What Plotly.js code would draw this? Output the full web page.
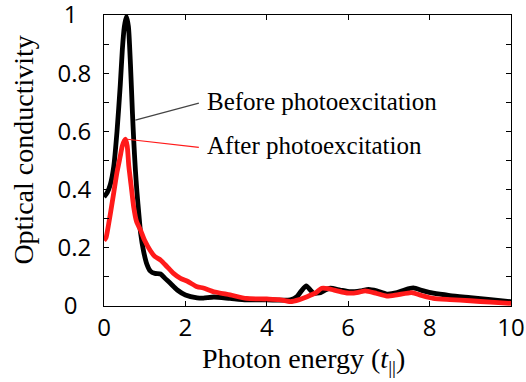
<!DOCTYPE html>
<html><head><meta charset="utf-8">
<script src="https://cdn.plot.ly/plotly-3.0.1.min.js"></script>
<style>html,body{margin:0;padding:0;background:#fff;}#wrap{position:relative;width:526px;height:382px;}#chart{width:526px;height:382px;}#frame{position:absolute;pointer-events:none;border-top:1px solid #000;border-right:1px solid #000;box-sizing:border-box;}</style>
</head><body><div id="wrap"><div id="chart"></div><div id="frame"></div></div>
<script>
const beforeX = [0, 0.08, 0.16, 0.24, 0.32, 0.4, 0.45, 0.5, 0.55, 0.6, 0.65, 0.7, 0.73, 0.77, 0.81, 0.86, 0.9, 0.97, 1.05, 1.14, 1.25, 1.39, 1.5, 1.63, 1.8, 2.0, 2.29, 2.44, 2.7, 3.1, 3.5, 4.0, 4.58, 4.74, 4.85, 4.97, 5.07, 5.15, 5.32, 5.45, 5.56, 5.8, 6.05, 6.3, 6.5, 6.7, 6.95, 7.2, 7.4, 7.6, 7.85, 8.09, 8.5, 9.0, 9.5, 10];
const beforeY = [0.375, 0.39, 0.42, 0.48, 0.6, 0.76, 0.88, 0.96, 0.995, 0.96, 0.83, 0.66, 0.57, 0.47, 0.39, 0.31, 0.25, 0.19, 0.145, 0.12, 0.112, 0.11, 0.095, 0.078, 0.055, 0.038, 0.028, 0.027, 0.031, 0.026, 0.021, 0.021, 0.021, 0.032, 0.052, 0.069, 0.055, 0.044, 0.046, 0.056, 0.061, 0.055, 0.049, 0.052, 0.057, 0.052, 0.041, 0.046, 0.056, 0.062, 0.052, 0.044, 0.036, 0.029, 0.022, 0.015];
const afterX = [0, 0.05, 0.1, 0.16, 0.24, 0.32, 0.4, 0.45, 0.5, 0.53, 0.57, 0.61, 0.67, 0.73, 0.8, 0.9, 1.0, 1.14, 1.25, 1.39, 1.55, 1.7, 1.88, 2.05, 2.29, 2.44, 2.7, 3.1, 3.5, 4.0, 4.3, 4.58, 4.8, 4.99, 5.2, 5.35, 5.5, 5.64, 5.85, 6.05, 6.25, 6.42, 6.7, 6.95, 7.2, 7.56, 7.8, 8.09, 8.5, 9.0, 9.5, 10];
const afterY = [0.225, 0.235, 0.27, 0.32, 0.39, 0.46, 0.515, 0.55, 0.568, 0.573, 0.55, 0.48, 0.41, 0.34, 0.29, 0.26, 0.225, 0.19, 0.17, 0.158, 0.135, 0.113, 0.095, 0.085, 0.066, 0.062, 0.049, 0.038, 0.026, 0.024, 0.022, 0.015, 0.022, 0.032, 0.045, 0.061, 0.06, 0.055, 0.048, 0.044, 0.047, 0.052, 0.043, 0.034, 0.038, 0.046, 0.036, 0.026, 0.022, 0.018, 0.013, 0.009];
const xTickVals = [0, 2, 4, 6, 8, 10];
const xTickText = ["0", "2", "4", "6", "8", "10"];
const yTickVals = [0, 0.2, 0.4, 0.6, 0.8, 1];
const yTickText = ["0\u2007", "0.2", "0.4", "0.6", "0.8", "1\u2007"];
const xRange = [0, 10];
const yRange = [0, 1];
const labels = ["Before photoexcitation", "After photoexcitation"];
const xTitle = "Photon energy (<i>t</i><sub>||</sub>)";
const yTitle = "Optical conductivity";

const serif = "Liberation Serif, Times New Roman, serif";
const sans = "Open Sans, sans-serif";
const TL = 5;

const traces = [
  {x: beforeX, y: beforeY, type: "scatter", mode: "lines", line: {color: "#000000", width: 4.8, shape: "spline", smoothing: 0.6}, hoverinfo: "skip"},
  {x: afterX, y: afterY, type: "scatter", mode: "lines", line: {color: "#ff1a1a", width: 4.8, shape: "spline", smoothing: 0.6}, hoverinfo: "skip"}
];

const layout = {
  width: 526, height: 382,
  margin: {l: 104, r: 15, t: 15, b: 76, autoexpand: false},
  showlegend: false,
  xaxis: {
    range: xRange, tickvals: xTickVals, ticktext: xTickText,
    ticks: "inside", ticklen: TL, tickcolor: "#000", showline: true, linecolor: "#000", mirror: "allticks",
    showgrid: false, zeroline: false, ticklabeloverflow: "allow",
    tickfont: {family: sans, size: 24, color: "#000"}
  },
  yaxis: {
    range: yRange, tickvals: yTickVals, ticktext: yTickText,
    ticks: "inside", ticklen: TL, tickcolor: "#000", showline: true, linecolor: "#000", mirror: "allticks",
    minor: {dtick: 0.1, ticks: "inside", ticklen: TL, tickcolor: "#000"},
    showgrid: false, zeroline: false, ticklabeloverflow: "allow", ticklabelstandoff: 7,
    tickfont: {family: sans, size: 24, color: "#000"}
  },
  shapes: [
    {type: "line", xref: "x", yref: "y", x0: 0.77, y0: 0.639, x1: 2.33, y1: 0.697, line: {color: "#444", width: 1.2}},
    {type: "line", xref: "x", yref: "y", x0: 0.57, y0: 0.573, x1: 2.33, y1: 0.545, line: {color: "#ff1a1a", width: 1.2}}
  ],
  annotations: [
    {x: 2.48, y: 0.703, xref: "x", yref: "y", text: labels[0], showarrow: false, xanchor: "left", yanchor: "middle", font: {family: serif, size: 25, color: "#000"}},
    {x: 2.48, y: 0.55, xref: "x", yref: "y", text: labels[1], showarrow: false, xanchor: "left", yanchor: "middle", font: {family: serif, size: 25, color: "#000"}},
    {x: 0.49, y: -0.186, xref: "paper", yref: "paper", text: xTitle, showarrow: false, xanchor: "center", yanchor: "middle", font: {family: serif, size: 28, color: "#000"}},
    {x: -0.2, y: 0.536, xref: "paper", yref: "paper", text: yTitle, textangle: -90, showarrow: false, xanchor: "center", yanchor: "middle", font: {family: serif, size: 28, color: "#000"}}
  ]
};

Plotly.newPlot("chart", traces, layout, {staticPlot: true, displayModeBar: false}).then(gd => {
  // HTML overlay for the top and right frame edges, placed from Plotly's own plot-area size
  const s = gd._fullLayout._size;
  const f = document.getElementById("frame");
  f.style.left = (s.l - 1) + "px";
  f.style.top = (s.t - 1) + "px";
  f.style.width = (s.w + 2) + "px";
  f.style.height = (s.h + 2) + "px";
});
</script></body></html>
